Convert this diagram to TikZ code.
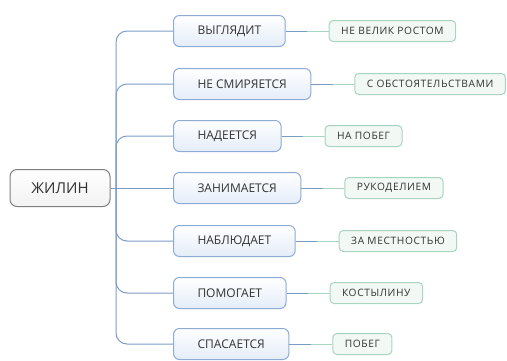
\documentclass[tikz,border=0pt]{standalone}
\usepackage{fontspec}
\setmainfont{Open Sans}
\usetikzlibrary{positioning}

\definecolor{rootdraw}{HTML}{7F7F7F}
\definecolor{rootfill}{HTML}{F2F2F2}
\definecolor{actdraw}{HTML}{8DACD5}
\definecolor{actfill}{HTML}{E4EDF8}
\definecolor{detdraw}{HTML}{A9D4BE}
\definecolor{detfill}{HTML}{F2F8F4}
\definecolor{trunkline}{HTML}{7C9CC8}
\definecolor{leafline}{HTML}{A9D6BE}
\definecolor{inktext}{HTML}{333333}

\begin{document}
\begin{tikzpicture}[
        x=1pt, y=-1pt,
        node distance=43pt,
        hero/.style={
            rectangle,
            rounded corners=7pt,
            draw=rootdraw,
            top color=white,
            bottom color=rootfill,
            line width=1pt,
            minimum width=100pt,
            minimum height=37pt,
            text=inktext,
            font=\fontsize{15}{18}\selectfont
        },
        action/.style={
            rectangle,
            rounded corners=6pt,
            draw=actdraw,
            top color=white,
            bottom color=actfill,
            line width=1pt,
            inner xsep=24pt,
            minimum height=31pt,
            anchor=west,
            text=inktext,
            font=\fontsize{12}{14}\selectfont
        },
        detail/.style={
            rectangle,
            rounded corners=4pt,
            draw=detdraw,
            fill=detfill,
            line width=1pt,
            inner xsep=12pt,
            minimum height=21pt,
            text=inktext,
            font=\fontsize{10.2}{12}\selectfont\addfontfeatures{LetterSpace=6}
        },
        link/.style={
            trunkline,
            line width=1pt
        },
        sublink/.style={
            leafline,
            line width=1pt
        }
    ]
    \useasboundingbox (0,0) rectangle (507,360);

    \node[hero] (zhilin) at (60,188) {ЖИЛИН};
    \coordinate (fork) at (116,188);

    \node[action] (looks) at (173,31) {ВЫГЛЯДИТ};
    \node[action] (resists) at (173,84) {НЕ СМИРЯЕТСЯ};
    \node[action] (hopes) at (173,136) {НАДЕЕТСЯ};
    \node[action] (busy) at (173,188) {ЗАНИМАЕТСЯ};
    \node[action] (watches) at (173,241) {НАБЛЮДАЕТ};
    \node[action] (helps) at (173,293) {ПОМОГАЕТ};
    \node[action] (escapes) at (173,344) {СПАСАЕТСЯ};

    \node[detail, right=of looks] (looks-d) {НЕ ВЕЛИК РОСТОМ};
    \node[detail, right=of resists] (resists-d) {С ОБСТОЯТЕЛЬСТВАМИ};
    \node[detail, right=of hopes] (hopes-d) {НА ПОБЕГ};
    \node[detail, right=of busy] (busy-d) {РУКОДЕЛИЕМ};
    \node[detail, right=of watches] (watches-d) {ЗА МЕСТНОСТЬЮ};
    \node[detail, right=of helps] (helps-d) {КОСТЫЛИНУ};
    \node[detail, right=of escapes] (escapes-d) {ПОБЕГ};

    % trunk
    \draw[link] (zhilin) -- (fork);
    \foreach \n in {looks, resists, hopes, watches, helps, escapes}
        \draw[link, rounded corners=11pt] (fork) |- (\n);
    \draw[link] (fork) -- (busy);

    % leaves
    \foreach \n in {looks, resists, hopes, busy, watches, helps, escapes} {
        \path (\n.east) -- coordinate[midway] (\n-mid) (\n-d.west);
        \draw[link] (\n) -- (\n-mid);
        \draw[sublink] (\n-mid) -- (\n-d);
    }
\end{tikzpicture}
\end{document}
